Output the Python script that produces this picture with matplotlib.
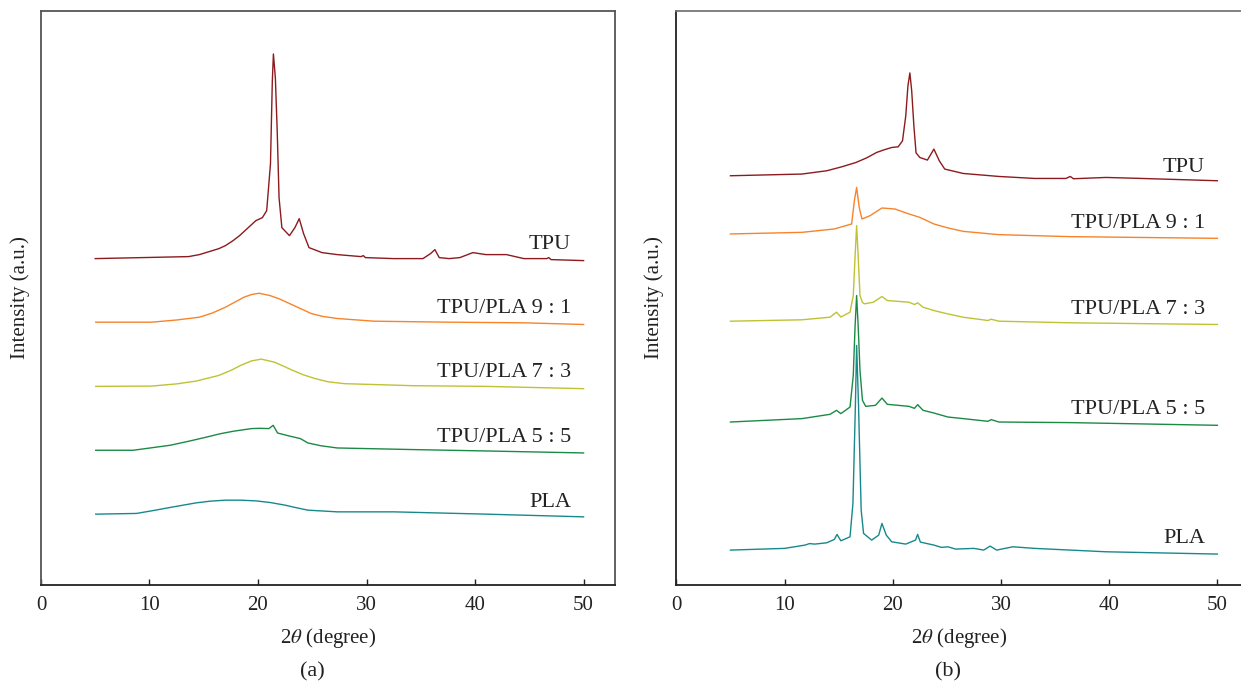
import matplotlib
matplotlib.use("Agg")
import matplotlib.pyplot as plt

plt.rcParams['font.family'] = ['Liberation Serif', 'DejaVu Serif']
plt.rcParams['mathtext.fontset'] = 'stix'

# ---- panel (a): 2theta / intensity (a.u., offsets included) ----
a_tpu_x = [5.0, 13.6, 14.6, 15.5, 16.4, 17.0, 17.7, 18.3, 18.9, 19.4, 19.8, 20.4, 20.8, 21.15, 21.32,
           21.42, 21.6, 21.77, 21.94, 22.2, 22.9, 23.4, 23.8, 24.2, 24.7, 25.9, 27.3, 29.5, 29.7,
           29.9, 32.5, 35.2, 35.9, 36.3, 36.7, 37.6, 38.6, 39.8, 41.0, 42.9, 44.5, 46.6, 46.8, 47.0, 50.0]
a_tpu_y = [327, 329, 331, 334, 337, 340, 345, 350, 356, 361, 365, 368, 375, 422, 505,
           532, 508, 455, 388, 358, 350, 358, 367, 352, 338, 333, 331, 329, 330,
           328, 327, 327, 332, 336, 328, 327, 328, 333, 331, 331, 327, 327, 328, 326, 325]

a_91_x = [5.05, 10.2, 12.5, 14.6, 15.8, 17.0, 18.7, 19.4, 20.1, 21.1, 22.0, 22.9, 23.9, 24.9, 26.0,
          27.3, 30.7, 37.6, 44.4, 50.0]
a_91_y = [263.3, 263.3, 265.5, 268.3, 272.5, 278.3, 288.3, 291, 292.3, 290, 286.5, 282, 277, 272, 269,
          267, 264.3, 263.3, 262.7, 261]

a_73_x = [5.05, 10.2, 12.5, 14.3, 16.4, 17.5, 18.4, 19.4, 20.3, 21.5, 22.3, 23.2, 24.2, 25.3, 26.5,
          28.0, 34.2, 41.0, 50.0]
a_73_y = [199, 199.3, 201.5, 204.3, 210, 215, 220, 224.5, 226.3, 223.3, 219.5, 215, 210.5, 206.7, 203.5,
          201.7, 199.7, 199, 196.7]

a_55_x = [5.05, 8.5, 11.9, 13.6, 15.3, 16.5, 17.7, 19.4, 20.2, 21.0, 21.4, 21.8, 22.8, 23.9, 24.6,
          25.8, 27.3, 34.2, 41.0, 50.0]
a_55_y = [135, 135, 140, 144, 148.3, 151.5, 154, 156.7, 157, 156.7, 160, 152.3, 149.5, 146.7, 142.3,
          139.5, 137.3, 135.7, 134.3, 132.3]

a_pla_x = [5.05, 8.8, 10.3, 11.9, 13.1, 14.3, 15.6, 17.0, 18.4, 19.8, 21.1, 22.5, 23.5, 24.6, 27.3,
           32.5, 41.0, 50.0]
a_pla_y = [71, 71.7, 74.5, 77.7, 80, 82.3, 84, 85, 85, 84.3, 82.7, 80, 77.5, 75, 73.3,
           73.3, 71, 68.3]

# ---- panel (b) ----
b_tpu_x = [5.0, 11.6, 13.9, 15.3, 16.6, 17.6, 18.5, 19.2, 19.9, 20.5, 20.9, 21.2, 21.4, 21.58, 21.75,
           21.95, 22.15, 22.5, 23.2, 23.8, 24.3, 24.8, 26.5, 29.8, 33.1, 36.0, 36.4, 36.7, 39.7, 43.0, 50.0]
b_tpu_y = [410, 411.7, 415, 419, 423.3, 428, 433.3, 436, 438.3, 439, 445, 470, 500, 513, 495,
           460, 433, 428.3, 425.7, 436.7, 425, 416.7, 412.3, 409.3, 407.3, 407.3, 409.3, 407, 408.3, 407.3, 405]

b_91_x = [5.0, 11.6, 14.6, 16.2, 16.45, 16.66, 16.9, 17.15, 17.9, 19.0, 20.2, 21.5, 22.5, 23.8, 25.0,
          26.5, 29.8, 36.4, 50.0]
b_91_y = [351.7, 353.3, 356.7, 361.7, 385, 398.3, 378.3, 366.7, 370, 377.7, 376.7, 371.7, 368.3, 361.7, 358,
          354.3, 351, 349, 347.3]

b_73_x = [5.0, 11.6, 14.2, 14.8, 15.2, 16.05, 16.35, 16.52, 16.66, 16.8, 16.97, 17.2, 17.4, 18.2, 19.0,
          19.5, 21.5, 22.0, 22.3, 22.8, 23.8, 24.8, 26.5, 28.8, 29.1, 29.8, 36.4, 50.0]
b_73_y = [264.3, 265.7, 268.3, 273.3, 268.5, 273.3, 290, 330, 360, 330, 290, 283, 281.7, 283.3, 289,
          285, 283.3, 281, 282.7, 278.3, 275, 272.3, 268.3, 265, 266.3, 264.3, 262.7, 261]

b_55_x = [5.0, 11.6, 14.2, 14.8, 15.2, 16.05, 16.35, 16.52, 16.66, 16.8, 16.97, 17.2, 17.5, 18.4, 19.0,
          19.5, 21.5, 22.0, 22.3, 22.8, 23.8, 25.1, 26.5, 28.8, 29.1, 29.8, 36.4, 50.0]
b_55_y = [163.3, 166.7, 171, 175, 171.7, 178.3, 210, 260, 290, 260, 215, 185, 179, 180, 187.3,
          181, 179, 177, 180.7, 175, 172.3, 168.3, 166.7, 164, 165.7, 163.3, 162.7, 160]

b_pla_x = [5.0, 10.0, 11.9, 12.3, 12.8, 13.9, 14.6, 14.85, 15.2, 16.05, 16.32, 16.55, 16.66, 16.83, 17.08,
           17.3, 18.05, 18.7, 19.0, 19.4, 19.9, 21.2, 22.1, 22.3, 22.55, 23.8, 24.5, 25.1, 25.8, 27.5,
           28.4, 29.0, 29.6, 31.1, 33.1, 36.4, 39.7, 50.0]
b_pla_y = [35, 36.7, 40, 41.5, 41, 42.3, 45.7, 50.7, 44.3, 48.3, 82, 182, 240, 182, 75,
           51.7, 45, 50, 61.7, 50, 43.3, 41, 45, 50.7, 43, 40, 37.7, 38.3, 36, 36.7,
           35, 39, 35, 38.3, 36.7, 35, 33.3, 31]

labels = ['TPU', 'TPU/PLA 9 : 1', 'TPU/PLA 7 : 3', 'TPU/PLA 5 : 5', 'PLA']
colors = ['#8c1a1e', '#f7842a', '#bfc233', '#1b8a45', '#17898b']
a_label_y = [337, 273, 208, 143, 78]
b_label_y = [414, 358, 272, 171, 42]

fig = plt.figure(figsize=(12.41, 6.86), dpi=100)
ax_a = fig.add_axes([0.033, 0.1472, 0.4626, 0.8367])
ax_b = fig.add_axes([0.545, 0.1472, 0.455, 0.8367])

series_a = [(a_tpu_x, a_tpu_y), (a_91_x, a_91_y), (a_73_x, a_73_y), (a_55_x, a_55_y), (a_pla_x, a_pla_y)]
series_b = [(b_tpu_x, b_tpu_y), (b_91_x, b_91_y), (b_73_x, b_73_y), (b_55_x, b_55_y), (b_pla_x, b_pla_y)]

for ax, series, lab_y, xmax in [(ax_a, series_a, a_label_y, 52.9), (ax_b, series_b, b_label_y, 52.18)]:
    for (x, y), c in zip(series, colors):
        ax.plot(x, y, color=c, lw=1.0)
    for lab, ly in zip(labels, lab_y):
        ax.text(48.85, ly, lab, ha='right', va='baseline', fontsize=16, color='#222222')
    ax.set_xlim(0, xmax)
    ax.set_ylim(0, 575)
    ax.set_xticks([0, 10, 20, 30, 40, 50])
    ax.set_yticks([])
    ax.tick_params(axis='x', direction='in', length=4.5, width=1, pad=8, labelsize=15,
                   colors='#222222')
    ax.set_xlabel(r'2$\theta$ (degree)', fontsize=15, labelpad=8, color='#222222')
    ax.set_ylabel('Intensity (a.u.)', fontsize=15, color='#222222')
    for s in ax.spines.values():
        s.set_color('#555555')
        s.set_linewidth(1.3)
    ax.spines['bottom'].set_color('#222222')

ax_b.spines['right'].set_visible(False)
ax_b.spines['left'].set_color('#222222')
ax_b.spines['top'].set_color('#777777')
ax_a.yaxis.set_label_coords(-0.019, 0.5)
ax_b.yaxis.set_label_coords(-0.022, 0.5)

fig.text(312 / 1241, 1 - 672 / 686, '(a)', ha='center', va='center', fontsize=16, color='#222222')
fig.text(948 / 1241, 1 - 672 / 686, '(b)', ha='center', va='center', fontsize=16, color='#222222')

fig.savefig('out.png', dpi=100)
